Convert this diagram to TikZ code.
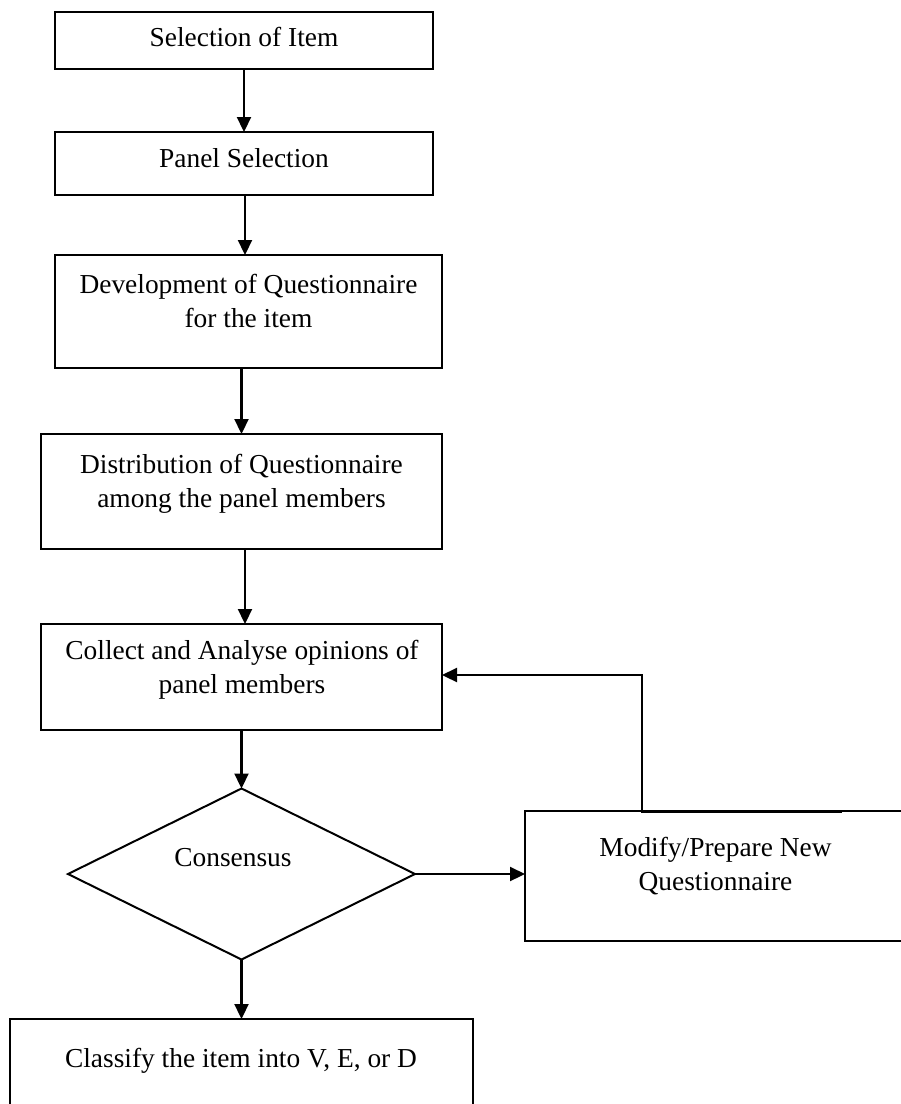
\documentclass[tikz,border=0pt]{standalone}
\usepackage{fontspec}
\setmainfont{Liberation Serif}
\usetikzlibrary{arrows.meta,shapes.geometric}
\tikzset{
  box/.style={draw, line width=2.3pt, rectangle, inner sep=0pt, outer sep=0pt},
  dia/.style={draw, line width=2pt, diamond, inner sep=0pt, outer sep=0pt},
  txt/.style={inner sep=0pt, outer sep=0pt, align=center, font=\fontsize{27.4pt}{34pt}\selectfont},
  arr/.style={line width=2.2pt, -{Triangle[length=15pt,width=14pt]}}
}
\begin{document}
\begin{tikzpicture}[x=1pt,y=-1pt]
\path[use as bounding box] (0,0) rectangle (901,1104);
\clip (0,0) rectangle (901,1104);
% boxes
\node[box, minimum width=378pt, minimum height=57pt] (b1) at (244,40.5) {};
\node[box, minimum width=378pt, minimum height=63pt] (b2) at (244,163.5) {};
\node[box, minimum width=387pt, minimum height=113pt] (b3) at (248.5,311.5) {};
\node[box, minimum width=401pt, minimum height=115pt] (b4) at (241.5,491.5) {};
\node[box, minimum width=401pt, minimum height=106pt] (b5) at (241.5,677) {};
\node[dia, minimum width=347pt, minimum height=171pt] (d) at (241.5,874) {};
\node[box, minimum width=390pt, minimum height=130pt] (m) at (720,876) {};
\node[box, minimum width=463pt, minimum height=110pt] (b7) at (241.5,1074) {};
% texts (multi-line nodes: base anchor is on the last line)
\node[txt, anchor=base] (t1) at (244,46.7) {Selection of Item};
\node[txt, anchor=base] (t2) at (244,167) {Panel Selection};
\node[txt, anchor=base] (t3) at (248.5,327) {Development of Questionnaire\\for the item};
\node[txt, anchor=base] (t4) at (241.5,507) {Distribution of Questionnaire\\among the panel members};
\node[txt, anchor=base] (t5) at (242,693) {Collect and Analyse opinions of\\panel members};
\node[txt, anchor=base] (t6) at (233,866) {Consensus};
\node[txt, anchor=base] (t7) at (715.5,890) {Modify/Prepare New\\Questionnaire};
\node[txt, anchor=base] (t8) at (241,1067) {Classify the item into V, E, or D};
% connectors
\draw[arr] (b1.south) -- (b2.north);
\draw[arr] ([xshift=1pt]b2.south) -- ([xshift=1pt]b2.south |- b3.north);
\draw[arr] (b4.north |- b3.south) -- (b4.north);
\draw[arr] ([xshift=3.5pt]b4.south) -- ([xshift=3.5pt]b5.north);
\draw[arr] (d.north |- b5.south) -- (d.north);
\draw[arr] (d.east) -- (d.east -| m.west);
\draw[arr] (d.south) -- (d.south |- b7.north);
\coordinate (fbs) at (842,812);
\coordinate (fbc) at (642,675);
\draw[arr] (fbs) -- (fbc |- fbs) -- (fbc) -- (fbc -| b5.east);
\end{tikzpicture}
\end{document}
